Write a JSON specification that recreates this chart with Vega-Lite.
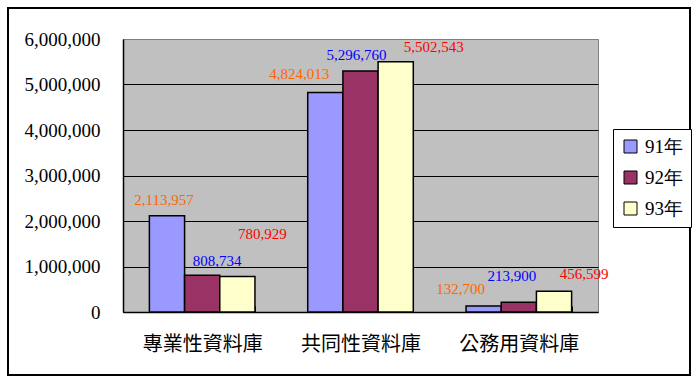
{
  "$schema": "https://vega.github.io/schema/vega-lite/v6.json",
  "width": 475,
  "height": 273,
  "autosize": {"type": "none"},
  "padding": {"left": 123, "top": 39, "right": 100, "bottom": 71},
  "background": "white",
  "config": {
    "view": {"fill": "#C0C0C0", "stroke": "#808080", "strokeWidth": 1},
    "text": {"font": "Liberation Serif", "fontSize": 15, "baseline": "middle"}
  },
  "datasets": {
    "bars": [
      {"category": "專業性資料庫", "year": "91年", "value": 2113957},
      {"category": "專業性資料庫", "year": "92年", "value": 808734},
      {"category": "專業性資料庫", "year": "93年", "value": 780929},
      {"category": "共同性資料庫", "year": "91年", "value": 4824013},
      {"category": "共同性資料庫", "year": "92年", "value": 5296760},
      {"category": "共同性資料庫", "year": "93年", "value": 5502543},
      {"category": "公務用資料庫", "year": "91年", "value": 132700},
      {"category": "公務用資料庫", "year": "92年", "value": 213900},
      {"category": "公務用資料庫", "year": "93年", "value": 456599}
    ],
    "frame": [{"id": 1}]
  },
  "layer": [
    {
      "data": {"name": "bars"},
      "encoding": {
        "x": {
          "field": "category", "type": "nominal",
          "sort": ["專業性資料庫", "共同性資料庫", "公務用資料庫"],
          "scale": {"paddingInner": 0.3333, "paddingOuter": 0.1667},
          "axis": {
            "title": null, "labelAngle": 0, "labelFont": "Noto Sans CJK TC", "labelFontSize": 20,
            "labelColor": "black", "domainColor": "black", "domainWidth": 1.5, "tickColor": "black",
            "tickBand": "extent", "tickSize": -6, "labelPadding": 28, "grid": false
          }
        },
        "xOffset": {
          "field": "year", "type": "nominal", "sort": ["91年", "92年", "93年"],
          "scale": {"paddingInner": 0, "paddingOuter": 0, "range": [0, 105.56]}
        },
        "y": {
          "field": "value", "type": "quantitative",
          "scale": {"domain": [0, 6000000], "nice": false},
          "axis": {
            "title": null, "values": [0, 1000000, 2000000, 3000000, 4000000, 5000000, 6000000],
            "format": ",.0f", "labelFont": "Liberation Serif", "labelFontSize": 19, "labelColor": "black",
            "domainColor": "black", "domainWidth": 1.5, "ticks": false, "labelPadding": 23,
            "grid": true, "gridOpacity": 1,
            "gridColor": {"condition": {"test": "datum.value === 6000000", "value": "#808080"}, "value": "black"}
          }
        }
      },
      "layer": [
        {
          "mark": {"type": "bar", "stroke": "black", "strokeWidth": 1.5},
          "encoding": {
            "color": {
              "field": "year", "type": "nominal",
              "scale": {"domain": ["91年", "92年", "93年"], "range": ["#9999FF", "#993366", "#FFFFCC"]},
              "legend": {
                "orient": "none", "legendX": 490, "legendY": 90, "title": null,
                "strokeColor": "black", "fillColor": "white", "padding": 8,
                "symbolType": "square", "symbolSize": 169, "symbolStrokeColor": "black", "symbolStrokeWidth": 1,
                "labelFont": "Liberation Serif", "labelFontSize": 19, "labelColor": "black",
                "rowPadding": 11, "labelOffset": 5
              }
            }
          }
        },
        {
          "transform": [{"filter": "datum.category === '專業性資料庫' && datum.year === '91年'"}],
          "mark": {"type": "text", "color": "#FF6600", "dx": -3, "dy": -16},
          "encoding": {"text": {"field": "value", "type": "quantitative", "format": ",.0f"}}
        },
        {
          "transform": [{"filter": "datum.category === '專業性資料庫' && datum.year === '92年'"}],
          "mark": {"type": "text", "color": "#0000FF", "dx": 15, "dy": -14},
          "encoding": {"text": {"field": "value", "type": "quantitative", "format": ",.0f"}}
        },
        {
          "transform": [{"filter": "datum.category === '專業性資料庫' && datum.year === '93年'"}],
          "mark": {"type": "text", "color": "#FF0000", "dx": 25, "dy": -42},
          "encoding": {"text": {"field": "value", "type": "quantitative", "format": ",.0f"}}
        },
        {
          "transform": [{"filter": "datum.category === '共同性資料庫' && datum.year === '91年'"}],
          "mark": {"type": "text", "color": "#FF6600", "dx": -26, "dy": -19},
          "encoding": {"text": {"field": "value", "type": "quantitative", "format": ",.0f"}}
        },
        {
          "transform": [{"filter": "datum.category === '共同性資料庫' && datum.year === '92年'"}],
          "mark": {"type": "text", "color": "#0000FF", "dx": -4, "dy": -16},
          "encoding": {"text": {"field": "value", "type": "quantitative", "format": ",.0f"}}
        },
        {
          "transform": [{"filter": "datum.category === '共同性資料庫' && datum.year === '93年'"}],
          "mark": {"type": "text", "color": "#FF0000", "dx": 38, "dy": -15},
          "encoding": {"text": {"field": "value", "type": "quantitative", "format": ",.0f"}}
        },
        {
          "transform": [{"filter": "datum.category === '公務用資料庫' && datum.year === '91年'"}],
          "mark": {"type": "text", "color": "#FF6600", "dx": -23, "dy": -17},
          "encoding": {"text": {"field": "value", "type": "quantitative", "format": ",.0f"}}
        },
        {
          "transform": [{"filter": "datum.category === '公務用資料庫' && datum.year === '92年'"}],
          "mark": {"type": "text", "color": "#0000FF", "dx": -7, "dy": -26},
          "encoding": {"text": {"field": "value", "type": "quantitative", "format": ",.0f"}}
        },
        {
          "transform": [{"filter": "datum.category === '公務用資料庫' && datum.year === '93年'"}],
          "mark": {"type": "text", "color": "#FF0000", "dx": 30, "dy": -17},
          "encoding": {"text": {"field": "value", "type": "quantitative", "format": ",.0f"}}
        }
      ]
    },
    {
      "data": {"name": "frame"},
      "mark": {"type": "rect", "fill": null, "stroke": "black", "strokeWidth": 2},
      "encoding": {
        "x": {"value": -115}, "x2": {"value": 567},
        "y": {"value": -31}, "y2": {"value": 336}
      }
    }
  ]
}
